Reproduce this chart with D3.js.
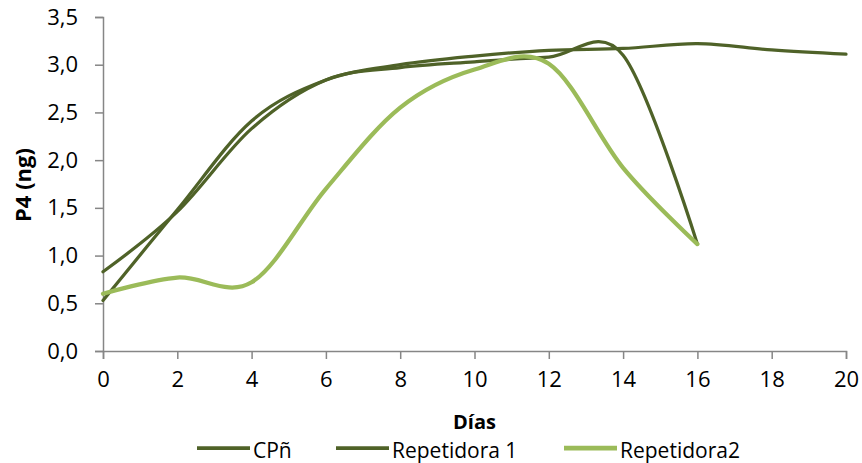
<!DOCTYPE html>
<html>
<head>
<meta charset="utf-8">
<script src="https://cdn.jsdelivr.net/npm/d3@7"></script>
<style>
  html, body { margin: 0; padding: 0; background: #fff; }
  svg { display: block; }
  text { font-family: "Open Sans", "Noto Sans", sans-serif; fill: #000; }
</style>
</head>
<body>
<svg id="chart" width="862" height="463"></svg>
<script>
// Progesterone (P4, ng) by day
const dias = [0, 2, 4, 6, 8, 10, 12, 14, 16, 18, 20];
const cpn = [0.53, 1.48, 2.41, 2.84, 3.00, 3.09, 3.15, 3.17, 3.22, 3.155, 3.11];
const repetidora1 = [0.83, 1.46, 2.33, 2.84, 2.97, 3.03, 3.08, 3.10, 1.12];
const repetidora2 = [0.60, 0.77, 0.72, 1.70, 2.55, 2.95, 3.01, 1.92, 1.12];
const seriesNames = ["CPñ", "Repetidora 1", "Repetidora2"];
const xTicks = [0, 2, 4, 6, 8, 10, 12, 14, 16, 18, 20];
const yTicks = [0, 0.5, 1, 1.5, 2, 2.5, 3, 3.5];

const svg = d3.select("#chart");
const x = d3.scaleLinear().domain([0, 20]).range([103, 846]);
const y = d3.scaleLinear().domain([0, 3.5]).range([351, 17]);
const axisColor = "#868686";
const fmt = d => d3.format(".1f")(d).replace(".", ",");

// Y axis
const yAxis = svg.append("g").attr("transform", `translate(${x(0)},0)`)
  .call(d3.axisLeft(y).tickValues(yTicks).tickFormat(fmt).tickSize(8).tickPadding(17));
yAxis.select(".domain").attr("stroke", axisColor).attr("stroke-width", 1.5);
yAxis.selectAll(".tick line").attr("stroke", axisColor).attr("stroke-width", 1.5);
yAxis.selectAll(".tick text").style("font-size", "22px").attr("font-family", null);

// X axis
const xAxis = svg.append("g").attr("transform", `translate(0,${y(0)})`)
  .call(d3.axisBottom(x).tickValues(xTicks).tickFormat(d3.format("d")).tickSize(8).tickPadding(12));
xAxis.select(".domain").attr("stroke", axisColor).attr("stroke-width", 1.5);
xAxis.selectAll(".tick line").attr("stroke", axisColor).attr("stroke-width", 1.5);
xAxis.selectAll(".tick text").style("font-size", "22px").attr("font-family", null);

// Axis titles
svg.append("text")
  .attr("x", x(10)).attr("y", 429)
  .attr("text-anchor", "middle")
  .style("font-size", "20px").style("font-weight", "bold")
  .text("Días");
svg.append("text")
  .attr("transform", "translate(31,185) rotate(-90)")
  .attr("text-anchor", "middle")
  .style("font-size", "22px").style("font-weight", "bold")
  .text("P4 (ng)");

// Series lines
const colors = ["#4F6228", "#4F6228", "#9BBB59"];
const widths = [3.25, 3.25, 4.25];
const allSeries = [cpn, repetidora1, repetidora2];
const line = d3.line()
  .x((d, i) => x(dias[i]))
  .y(d => y(d))
  .curve(d3.curveCardinal.tension(0));

svg.append("g").selectAll("path")
  .data(allSeries)
  .join("path")
  .attr("d", d => line(d))
  .attr("fill", "none")
  .attr("stroke", (d, i) => colors[i])
  .attr("stroke-width", (d, i) => widths[i])
  .attr("stroke-linejoin", "round")
  .attr("stroke-linecap", "round");

// Legend
const legendItems = [
  { x1: 197, x2: 250, tx: 253 },
  { x1: 336, x2: 389, tx: 392 },
  { x1: 564, x2: 617, tx: 620 }
];
const legend = svg.append("g");
legendItems.forEach((it, i) => {
  legend.append("line")
    .attr("x1", it.x1).attr("x2", it.x2)
    .attr("y1", 448).attr("y2", 448)
    .attr("stroke", colors[i]).attr("stroke-width", widths[i] + 0.5);
  legend.append("text")
    .attr("x", it.tx).attr("y", 458)
    .style("font-size", "21px")
    .text(seriesNames[i]);
});
</script>
</body>
</html>
